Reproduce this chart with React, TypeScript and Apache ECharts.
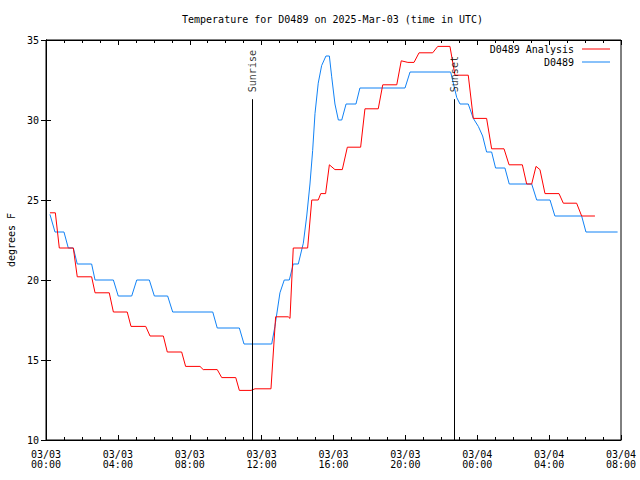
import React, { useEffect, useRef } from "react";
import * as echarts from "echarts";

// Hours since 03/03 00:00 UTC
const analysisHours = [
  0.22, 0.52, 0.74, 1.52, 1.74, 2.54, 2.73, 3.52, 3.75, 4.52, 4.73, 5.55, 5.79, 6.53, 6.75, 7.55, 7.77,
  8.57, 8.75, 9.53, 9.78, 10.56, 10.76, 11.41, 11.63, 12.52, 12.78, 13.48, 13.58, 13.76, 14.56, 14.79,
  15.15, 15.29, 15.56, 15.77, 16.08, 16.49, 16.77, 17.51, 17.75, 18.49, 18.74, 19.52, 19.77, 20.14,
  20.48, 20.76, 21.52, 21.8, 22.48, 22.76, 23.5, 23.78, 24.52, 24.8, 25.49, 25.77, 26.51, 26.75, 27.03,
  27.27, 27.49, 27.77, 28.55, 28.79, 29.53, 29.81, 30.55,
];
const analysisTemps = [
  24.2, 24.2, 22.0, 22.0, 20.2, 20.2, 19.2, 19.2, 18.0, 18.0, 17.1, 17.1, 16.5, 16.5, 15.5, 15.5, 14.6,
  14.6, 14.4, 14.4, 13.9, 13.9, 13.1, 13.1, 13.2, 13.2, 17.7, 17.7, 17.6, 22.0, 22.0, 25.0,
  25.0, 25.4, 25.4, 27.2, 26.9, 26.9, 28.3, 28.3, 30.7, 30.7, 32.2, 32.2, 33.7, 33.6,
  33.6, 34.2, 34.2, 34.6, 34.6, 32.8, 32.8, 30.1, 30.1, 28.2, 28.2, 27.2, 27.2, 26.0, 26.0,
  27.1, 26.9, 25.4, 25.4, 24.8, 24.8, 24.0, 24.0,
];

const obsHours = [
  0.22, 0.5, 1.0, 1.24, 1.52, 1.74, 2.54, 2.73, 3.75, 4.02, 4.77, 5.05, 5.75, 6.03, 6.77, 7.05, 9.28,
  9.53, 10.76, 11.02, 12.56, 12.74, 13.02, 13.26, 13.54, 13.76, 14.04, 14.32, 14.51, 14.69, 14.84,
  14.97, 15.15, 15.34, 15.58, 15.77, 15.9, 16.08, 16.27, 16.46, 16.7, 17.25, 17.47, 19.98, 20.26,
  22.52, 22.86, 23.04, 23.5, 23.78, 24.06, 24.3, 24.52, 24.8, 25.02, 25.54, 25.78, 27.03, 27.31,
  28.05, 28.32, 29.81, 30.05, 31.81,
];
const obsTemps = [
  24.1, 23.0, 23.0, 22.0, 22.0, 21.0, 21.0, 20.0, 20.0, 19.0, 19.0, 20.0, 20.0, 19.0, 19.0, 18.0, 18.0,
  17.0, 17.0, 16.0, 16.0, 17.1, 19.2, 20.0, 20.0, 21.0, 21.0, 22.3, 24.0, 26.0, 28.1,
  30.4, 32.3, 33.4, 34.0, 34.0, 32.7, 31.0, 30.0, 30.0, 31.0, 31.0, 32.0, 32.0, 33.0,
  33.0, 31.4, 31.0, 31.0, 30.1, 29.6, 29.0, 28.0, 28.0, 27.0, 27.0, 26.0, 26.0, 25.0,
  25.0, 24.0, 24.0, 23.0, 23.0,
];

const sunHours = [11.48, 22.73];
const sunLabels = ["Sunrise", "Sunset"];
const sunLineTop = 31.3;

const xMin = 0;
const xMax = 32;
const yMin = 10;
const yMax = 35;
const dayLabels = ["03/03", "03/04"];

const FONT = "DejaVu Sans Mono";

function hourLabel(v: number): string {
  if (Math.round(v) % 4 !== 0) return "";
  const h = Math.round(v);
  const day = dayLabels[Math.floor(h / 24)];
  const hh = String(h % 24).padStart(2, "0");
  return `${day}\n${hh}:00`;
}

export default function App() {
  const ref = useRef<HTMLDivElement>(null);
  useEffect(() => {
    if (!ref.current) return;
    const chart = echarts.init(ref.current, undefined, { renderer: "svg" });
    const analysis = analysisHours.map((h, i) => [h, analysisTemps[i]]);
    const obs = obsHours.map((h, i) => [h, obsTemps[i]]);
    const txt = { fontFamily: FONT, fontSize: 10, color: "#000" };
    const xCommon = {
      type: "value" as const,
      min: xMin,
      max: xMax,
      interval: 4,
      splitLine: { show: false },
      axisLine: { show: true, lineStyle: { color: "#000", width: 1 } },
      axisTick: { show: true, inside: true, length: 5, lineStyle: { color: "#000" } },
      minorTick: { show: true, splitNumber: 4, length: 3, lineStyle: { color: "#000" } },
    };
    const yCommon = {
      type: "value" as const,
      min: yMin,
      max: yMax,
      interval: 5,
      splitLine: { show: false },
      axisLine: { show: true, lineStyle: { color: "#000", width: 1 } },
      axisTick: { show: true, inside: true, length: 5, lineStyle: { color: "#000" } },
    };
    chart.setOption({
      animation: false,
      backgroundColor: "#fff",
      textStyle: { fontFamily: FONT },
      title: {
        text: "Temperature for D0489 on 2025-Mar-03 (time in UTC)",
        left: 177,
        top: 9,
        textStyle: { ...txt, fontWeight: "normal" },
      },
      legend: {
        data: ["D0489 Analysis", "D0489"],
        orient: "vertical",
        align: "right",
        right: 25,
        top: 38,
        itemWidth: 28,
        itemHeight: 1,
        itemGap: 1,
        icon: "rect",
        textStyle: { ...txt, lineHeight: 12, padding: [0, 3, 0, 0] },
      },
      grid: {
        left: 46,
        right: 19,
        top: 40,
        bottom: 40,
        show: true,
        borderColor: "#000",
        borderWidth: 1,
        containLabel: false,
        outerBoundsMode: "none",
      },
      xAxis: [
        {
          ...xCommon,
          position: "bottom",
          axisLabel: { ...txt, margin: 9, lineHeight: 10, formatter: hourLabel },
        },
        {
          ...xCommon,
          position: "top",
          axisLabel: { show: false },
        },
      ],
      yAxis: [
        {
          ...yCommon,
          position: "left",
          name: "degrees F",
          nameLocation: "middle",
          nameGap: 30,
          nameRotate: 90,
          nameTextStyle: txt,
          axisLabel: { ...txt, margin: 7 },
        },
        {
          ...yCommon,
          position: "right",
          axisLabel: { show: false },
        },
      ],
      series: [
        {
          name: "D0489 Analysis",
          type: "line",
          data: analysis,
          showSymbol: false,
          symbol: "none",
          color: "#ff0000",
          lineStyle: { color: "#ff0000", width: 1 },
          z: 3,
          markLine: {
            silent: true,
            symbol: "none",
            label: { show: false },
            lineStyle: { color: "#000", width: 1, type: "solid" },
            data: sunHours.map((h) => [{ coord: [h, yMin] }, { coord: [h, sunLineTop] }]),
          },
        },
        {
          name: "D0489",
          type: "line",
          data: obs,
          showSymbol: false,
          symbol: "none",
          color: "#1182f5",
          lineStyle: { color: "#1182f5", width: 1 },
          z: 2,
        },
        {
          name: "sun",
          type: "scatter",
          symbolSize: 0,
          silent: true,
          data: sunHours.map((h, i) => ({ value: [h, sunLineTop], name: sunLabels[i] })),
          label: {
            show: true,
            position: "top",
            distance: 7,
            rotate: 90,
            align: "left",
            verticalAlign: "middle",
            formatter: (p: any) => p.name,
            ...txt,
          },
          z: 4,
        },
      ],
    });
    return () => chart.dispose();
  }, []);
  return (
    <div
      ref={ref}
      style={{ position: "fixed", left: 0, top: 0, width: 640, height: 480, background: "#fff" }}
    />
  );
}
